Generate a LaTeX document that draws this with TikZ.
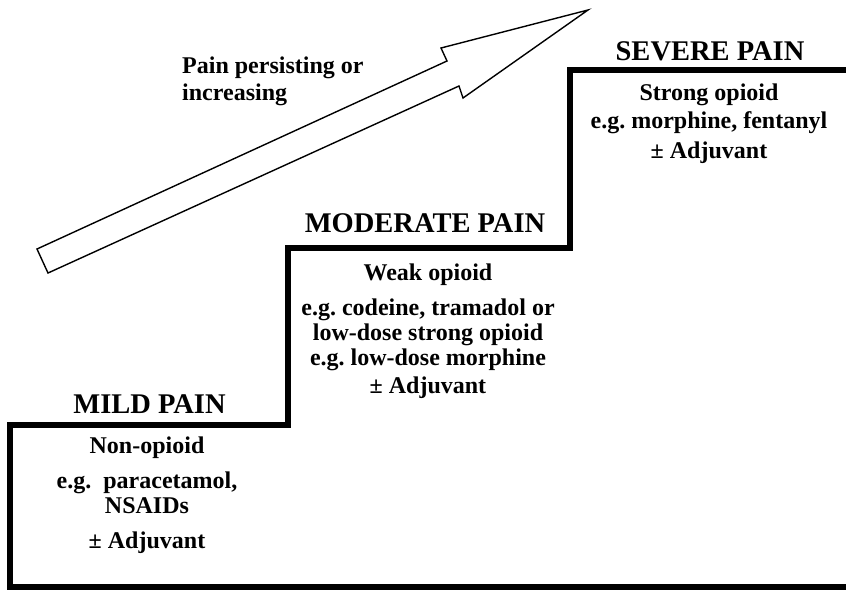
\documentclass[tikz,border=0pt]{standalone}
\usepackage{fontspec}
\setmainfont{Liberation Serif}
\frenchspacing
\usetikzlibrary{positioning}
\tikzset{
  stair/.style  = {line width=5.5pt, line join=miter, draw=black},
  trend/.style  = {line width=1.4pt, line join=miter, draw=black, fill=white},
  level/.style  = {anchor=base, inner sep=0pt,
                   font=\fontsize{28.5}{34}\selectfont\bfseries},
  drug/.style   = {anchor=north, align=center, inner sep=0pt,
                   font=\fontsize{24}{25}\selectfont\bfseries},
  note/.style   = {anchor=north west, align=left, inner sep=0pt,
                   font=\fontsize{24}{25}\selectfont\bfseries},
}

\begin{document}
\begin{tikzpicture}[x=1pt, y=-1pt]
  \useasboundingbox (0,0) rectangle (846,590);

  % the three steps
  \draw[stair] (846,587) -- (10,587) -- (10,425) -- (288,425) -- (288,248)
               -- (570,248) -- (570,70) -- (846,70);

  % rising arrow
  \draw[trend] (37,249) -- (447,61) -- (441,48) -- (588,10) -- (463,98)
               -- (459,86) -- (48,273) -- cycle;
  \node[note] (rise) at (182,56.7) {Pain persisting or\\[2pt]increasing};

  \node[level] (mild) at (149.5,413) {MILD PAIN};
  \node[level] (moderate) at (425,232) {MODERATE PAIN};
  \node[level] (severe) at (710,60) {SEVERE PAIN};

  \node[drug] (milddrug) at (147,436.7)
    {Non-opioid\\[10pt]e.g.\ \ paracetamol,\\NSAIDs\\[10pt]± Adjuvant};
  \node[drug] (moddrug) at (428,263.7)
    {Weak opioid\\[10pt]e.g. codeine, tramadol or\\low-dose strong opioid\\e.g. low-dose morphine\\[3pt]± Adjuvant};
  \node[drug] (sevdrug) at (709,83.7)
    {Strong opioid\\[3pt]e.g. morphine, fentanyl\\[5pt]± Adjuvant};
\end{tikzpicture}
\end{document}
